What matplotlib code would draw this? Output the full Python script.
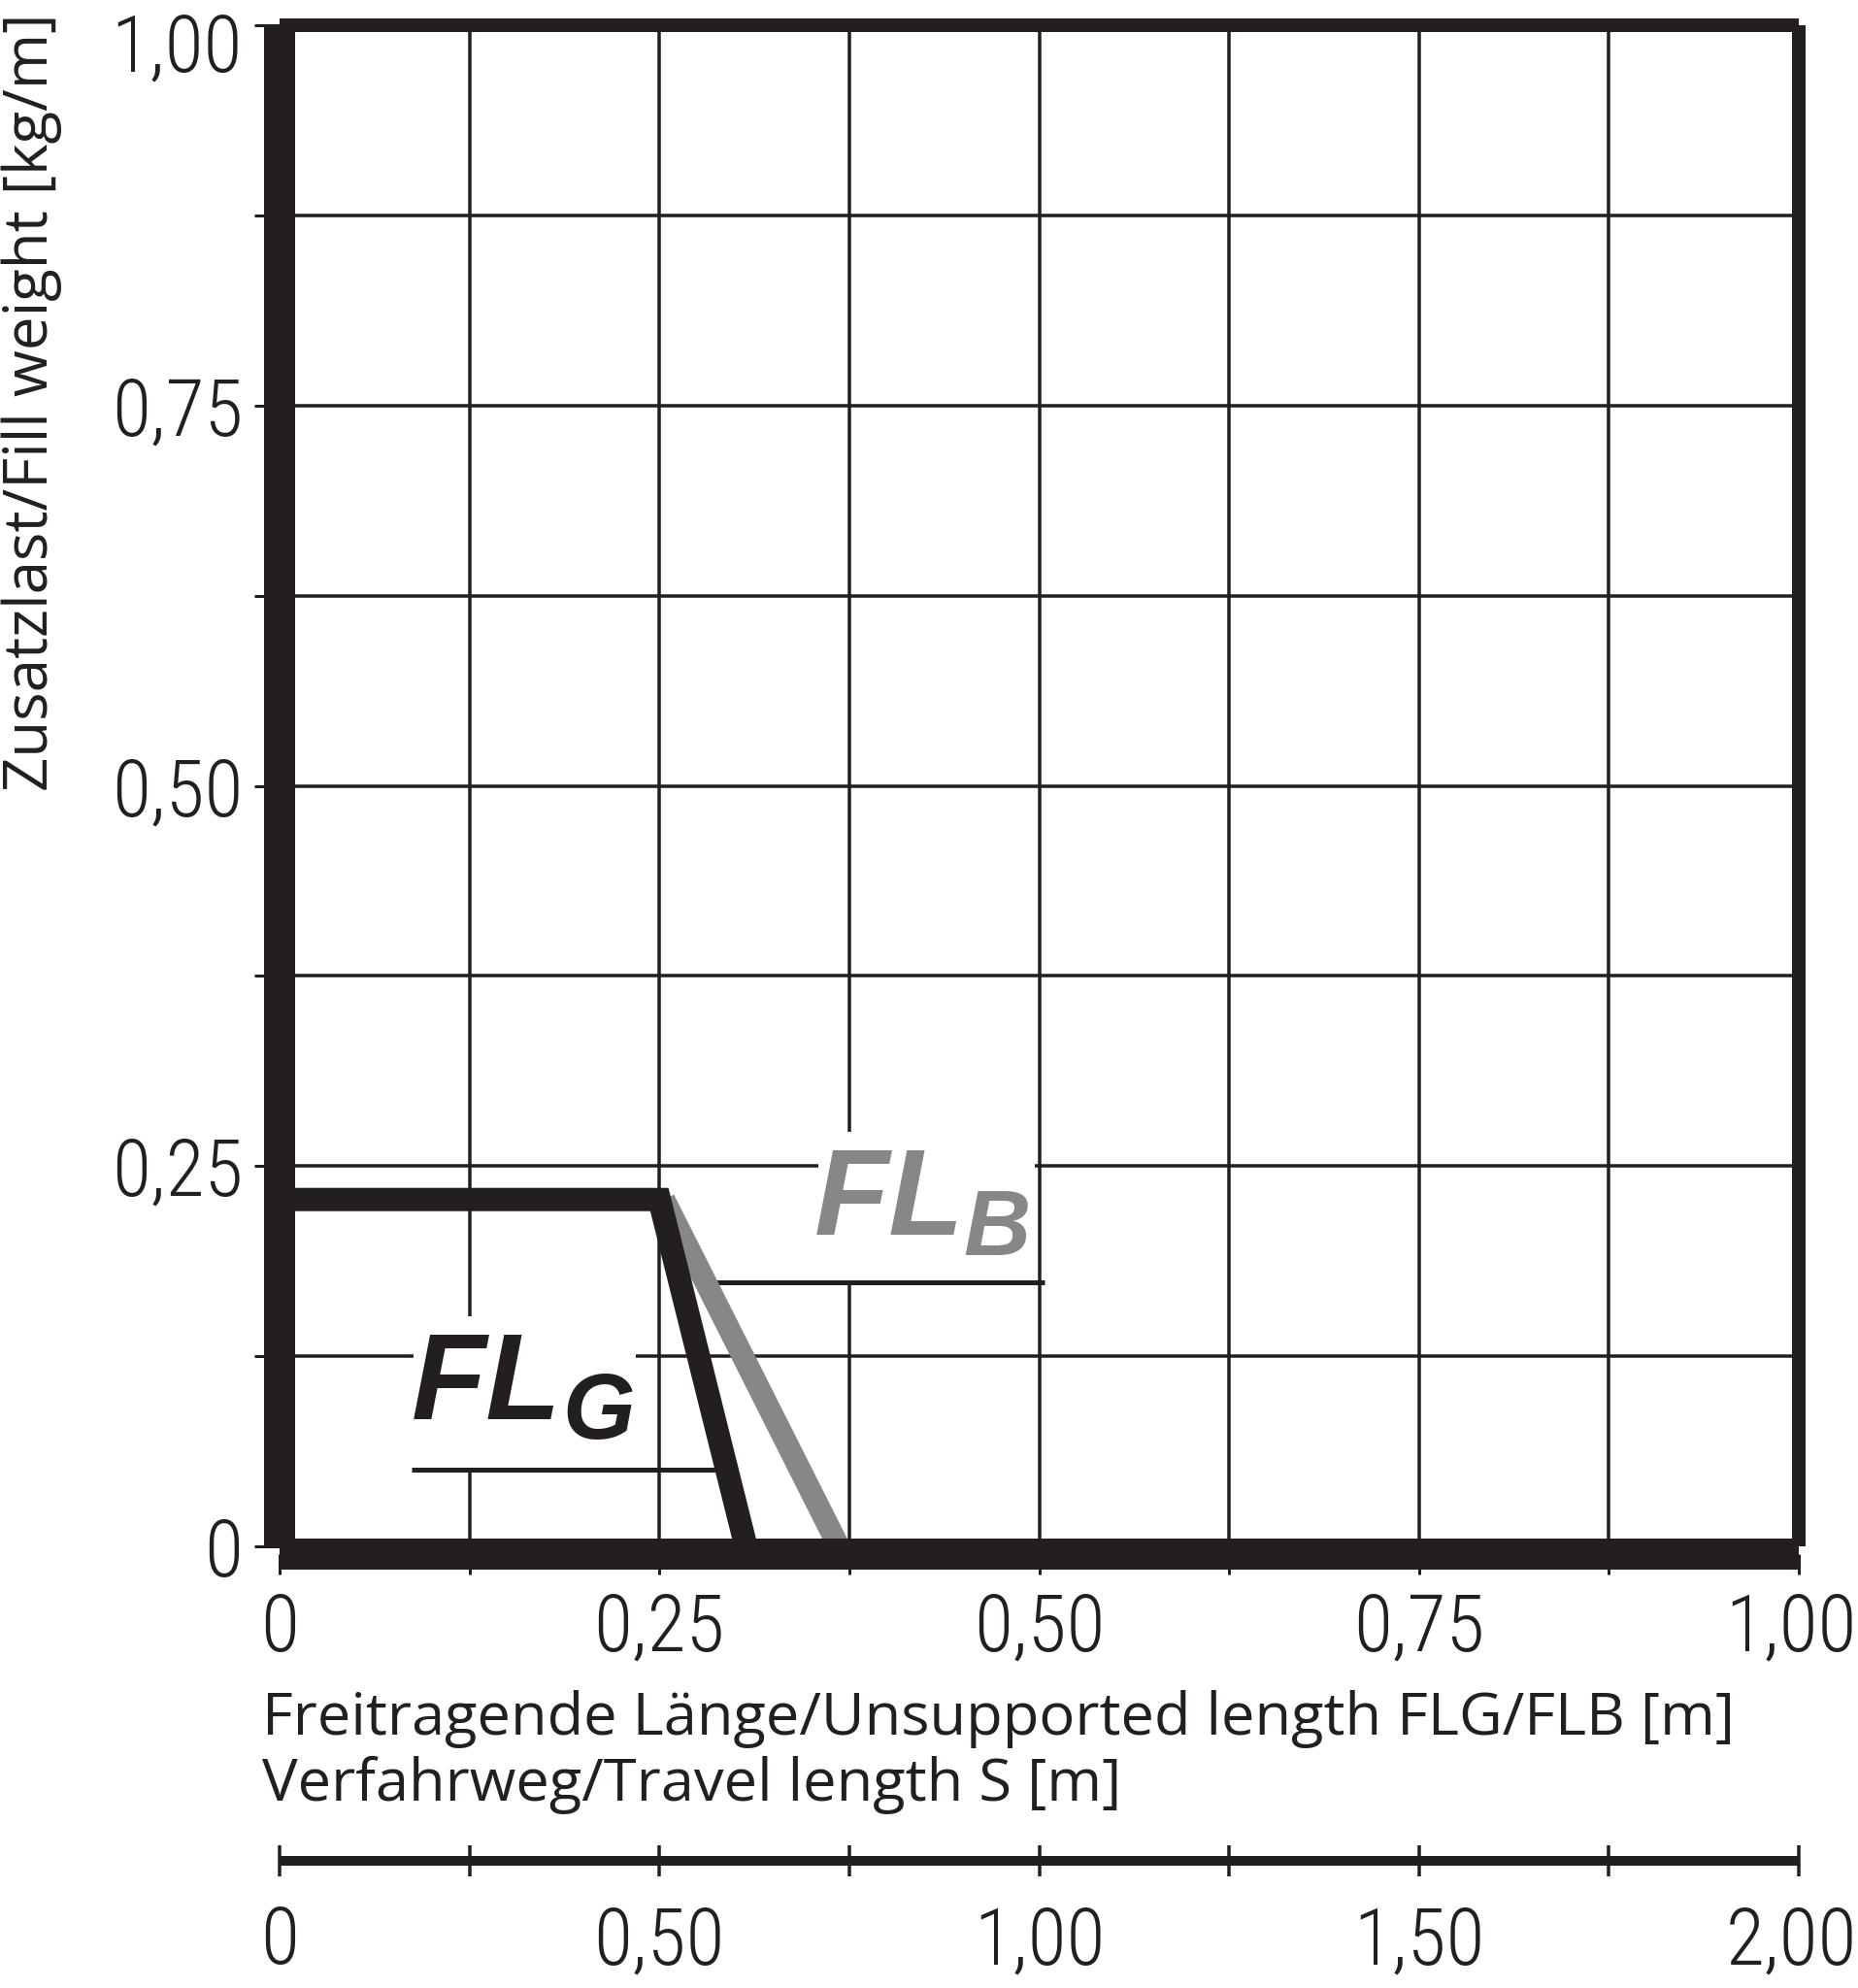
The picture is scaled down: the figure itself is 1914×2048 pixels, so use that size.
import matplotlib
matplotlib.use('Agg')
import matplotlib.pyplot as plt
from matplotlib import font_manager
from matplotlib.patches import Rectangle
from matplotlib.transforms import ScaledTranslation

# ---------------- data ----------------
flg_x = [0.0, 0.25, 0.307]
flg_y = [0.228, 0.228, 0.0]
flb_x = [0.253, 0.368]
flb_y = [0.228, 0.0]

x_major = [0, 0.25, 0.5, 0.75, 1.0]
x_major_labels = ['0', '0,25', '0,50', '0,75', '1,00']
y_major = [0, 0.25, 0.5, 0.75, 1.0]
y_major_labels = ['0', '0,25', '0,50', '0,75', '1,00']
grid_minor = [0.125, 0.375, 0.625, 0.875]

s_factor = 2.0
s_major = [0, 0.5, 1.0, 1.5, 2.0]
s_major_labels = ['0', '0,50', '1,00', '1,50', '2,00']
s_minor = [0.25, 0.75, 1.25, 1.75]

xlabel_lines = ['Freitragende Länge/Unsupported length FLG/FLB [m]',
                'Verfahrweg/Travel length S [m]']
ylabel_text = 'Zusatzlast/Fill weight [kg/m]'

# ---------------- style ----------------
BLACK = '#231f20'
GRAY = '#878787'
DPI = 100
W, H = 1915, 2048


def pt(px):
    return px * 72.0 / DPI


names = {f.name for f in font_manager.fontManager.ttflist}


def pick(*cands):
    for c in cands:
        if c in names:
            return c
    return 'DejaVu Sans'


tick_font = pick('Roboto Condensed', 'Liberation Sans Narrow', 'DejaVu Sans')
label_font = pick('Open Sans', 'Noto Sans', 'DejaVu Sans')
fl_font = pick('Liberation Sans', 'DejaVu Sans')

plt.rcParams['font.family'] = [tick_font, 'DejaVu Sans']
plt.rcParams['font.stretch'] = 'condensed'
plt.rcParams['font.weight'] = 'light'

fig = plt.figure(figsize=(W / DPI, H / DPI), dpi=DPI)
fig.patch.set_facecolor('white')
ax = fig.add_axes([288 / W, 1 - 1593 / H, 1565 / W, 1567 / H])
ax.set_xlim(0, 1)
ax.set_ylim(0, 1)
ax.set_axisbelow(True)

ax.set_xticks(x_major, labels=x_major_labels)
ax.set_yticks(y_major, labels=y_major_labels)
ax.set_xticks(grid_minor, minor=True)
ax.set_yticks(grid_minor, minor=True)
ax.grid(True, which='both', color=BLACK, linewidth=pt(3.5))

for side, w in [('left', 32), ('bottom', 32), ('top', 14), ('right', 14)]:
    sp = ax.spines[side]
    sp.set_linewidth(pt(w))
    sp.set_color(BLACK)
    sp.set_capstyle('butt')
ax.spines['bottom'].set_position(('outward', pt(8)))

ax.tick_params(axis='both', which='both', color=BLACK, width=pt(3),
               direction='out', labelsize=59, labelcolor=BLACK)
ax.tick_params(axis='y', which='both', length=pt(26), pad=pt(12))
ax.tick_params(axis='x', which='both', length=pt(21), pad=pt(17))

# curves
ax.plot(flb_x, flb_y, color=GRAY, linewidth=pt(23), solid_capstyle='butt',
        zorder=2.1)
ax.plot(flg_x, flg_y, color=BLACK, linewidth=pt(24), solid_capstyle='butt',
        solid_joinstyle='miter', zorder=2.2)

# label backgrounds
ax.add_patch(Rectangle((0.088, 0.0485), 0.1465, 0.1025, facecolor='white',
                       edgecolor='none', zorder=1))
ax.add_patch(Rectangle((0.3546, 0.174), 0.1424, 0.0985, facecolor='white',
                       edgecolor='none', zorder=1))

# underlines
ax.plot([0.087, 0.287], [0.0504, 0.0504], color=BLACK, linewidth=pt(5),
        solid_capstyle='butt', zorder=2)
ax.plot([0.2837, 0.5035], [0.1735, 0.1735], color=BLACK, linewidth=pt(5),
        solid_capstyle='butt', zorder=2)

fl_kw = dict(family=fl_font, fontweight='bold', fontstyle='italic',
             fontstretch='normal', ha='left', va='baseline', zorder=4)
ax.text(0.087, 0.0838, 'FL', fontsize=91, color=BLACK, **fl_kw)
ax.text(0.186, 0.071, 'G', fontsize=69, color=BLACK, **fl_kw)
ax.text(0.352, 0.205, 'FL', fontsize=91, color=GRAY, **fl_kw)
ax.text(0.450, 0.1915, 'B', fontsize=69, color=GRAY, **fl_kw)

# secondary travel-length scale (S = 2 x unsupported length)
# a thin axes band whose bottom spine sits in its middle at y = 1917 px
band = 40
sax = fig.add_axes([288 / W, 1 - (1917 + band / 2) / H, 1565 / W, band / H])
sax.set_facecolor('none')
x0, x1 = ax.get_xlim()
sax.set_xlim(x0 * s_factor, x1 * s_factor)
sax.set_yticks([])
for side in ('left', 'right', 'top'):
    sax.spines[side].set_visible(False)
sp = sax.spines['bottom']
sp.set_position(('axes', 0.5))
sp.set_linewidth(pt(10))
sp.set_color(BLACK)
sp.set_capstyle('butt')
sax.set_xticks(s_major, labels=s_major_labels)
sax.set_xticks(s_minor, minor=True)
sax.tick_params(axis='x', which='both', direction='inout', length=pt(32),
                width=pt(3.5), color=BLACK, pad=pt(29), labelsize=59,
                labelcolor=BLACK)

# axis titles
lab_kw = dict(family=[label_font, 'DejaVu Sans'], fontweight='normal',
              fontstretch='normal', color=BLACK)
t1 = fig.text(270 / W, 1 - 1787 / H, xlabel_lines[0], fontsize=42,
              ha='left', va='baseline', **lab_kw)
t2 = fig.text(270 / W, 1 - 1855 / H, xlabel_lines[1], fontsize=42,
              ha='left', va='baseline', **lab_kw)
ty = fig.text(2 / W, 1 - 14 / H, ylabel_text, fontsize=46, rotation=90,
              ha='left', va='top', **lab_kw)

fig.canvas.draw()
r = fig.canvas.get_renderer()
wcur = t1.get_window_extent(r).width
fs = 42 * 1517 / wcur
t1.set_fontsize(fs)
t2.set_fontsize(fs)
hcur = ty.get_window_extent(r).height
ty.set_fontsize(46 * 802 / hcur)


def nudge(tick, dx_px, dy_px):
    tick.label1.set_transform(tick.label1.get_transform() +
                              ScaledTranslation(dx_px / DPI, dy_px / DPI,
                                                fig.dpi_scale_trans))


# top y label sits slightly lower than its tick; right-most labels touch edge
nudge(ax.yaxis.get_major_ticks()[-1], 0, -17)
nudge(ax.xaxis.get_major_ticks()[-1], -8, 0)
nudge(sax.xaxis.get_major_ticks()[-1], -8, 0)

fig.savefig('out.png', dpi=DPI, facecolor='white')
